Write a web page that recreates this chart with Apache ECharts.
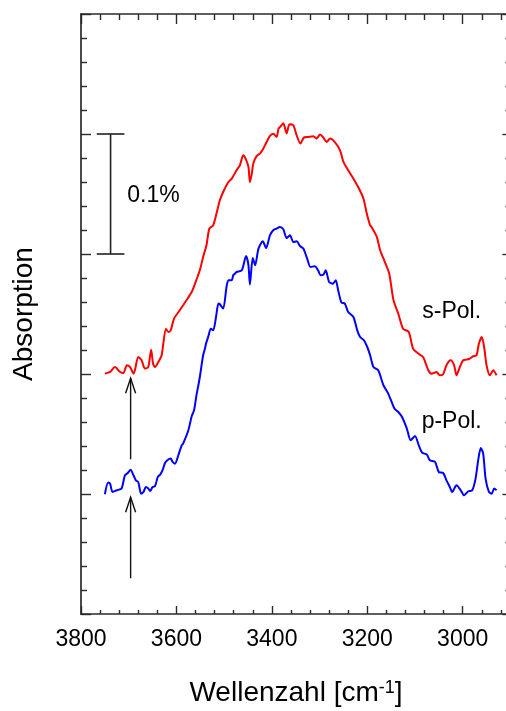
<!DOCTYPE html>
<html>
<head>
<meta charset="utf-8">
<script src="https://cdn.jsdelivr.net/npm/echarts@6/dist/echarts.min.js"></script>
<style>
html,body{margin:0;padding:0;background:#fff;overflow:hidden}
#c{width:506px;height:711px}
</style>
</head>
<body>
<div id="c"></div>
<script>
// ---------- data ----------
const xTickLabels = [3800, 3600, 3400, 3200, 3000];

// s-polarised spectrum (red)
const sPolX = [3750,3739,3729,3718,3711,3704,3697,3690,3687,3680,3673,3666,3659,3653,3649,3645,3638,3631,3622,3617,3612,3605,3593,3579,3568,3561,3551,3544,3537,3531,3523,3516,3509,3502,3491,3484,3474,3467,3460,3455,3449,3446,3442,3439,3432,3425,3418,3411,3404,3397,3390,3386,3383,3376,3369,3363,3355,3348,3340,3333,3324,3313,3306,3299,3292,3285,3278,3268,3257,3250,3240,3229,3219,3208,3201,3194,3191,3180,3173,3163,3154,3145,3135,3125,3113,3104,3093,3083,3072,3065,3055,3048,3041,3034,3025,3018,3013,3006,2999,2992,2985,2978,2971,2966,2960,2955,2950,2943,2936,2929];
const sPolY = [0.2003,0.2017,0.2058,0.2017,0.2008,0.2073,0.2058,0.2003,0.2031,0.2142,0.2114,0.2045,0.2058,0.2203,0.2087,0.2058,0.2100,0.2156,0.2378,0.2350,0.2364,0.2462,0.2531,0.2614,0.2683,0.2753,0.2864,0.2975,0.3073,0.3212,0.3239,0.3337,0.3448,0.3517,0.3600,0.3628,0.3698,0.3739,0.3823,0.3795,0.3725,0.3598,0.3670,0.3753,0.3816,0.3837,0.3878,0.3933,0.3985,0.4003,0.3975,0.4045,0.4058,0.4089,0.4006,0.4081,0.4073,0.3989,0.3920,0.3970,0.3975,0.3981,0.3962,0.3995,0.3970,0.3933,0.3962,0.3933,0.3864,0.3767,0.3698,0.3628,0.3558,0.3462,0.3337,0.3239,0.3225,0.3142,0.3031,0.2933,0.2837,0.2614,0.2503,0.2378,0.2350,0.2212,0.2170,0.2142,0.2031,0.2003,0.2017,0.1989,0.1998,0.2073,0.2114,0.2073,0.1989,0.2058,0.2114,0.2120,0.2128,0.2148,0.2156,0.2253,0.2308,0.2225,0.2073,0.1989,0.2031,0.1989];

// p-polarised spectrum (blue)
const pPolX = [3750,3743,3739,3734,3725,3715,3708,3702,3696,3690,3685,3680,3674,3669,3664,3659,3655,3650,3645,3639,3634,3629,3624,3619,3612,3608,3603,3596,3589,3586,3575,3568,3563,3558,3554,3551,3544,3540,3538,3533,3528,3523,3517,3512,3509,3502,3495,3491,3484,3481,3477,3474,3463,3454,3449,3446,3440,3435,3428,3419,3412,3404,3397,3390,3383,3376,3369,3362,3355,3348,3341,3334,3326,3319,3310,3303,3298,3292,3287,3280,3272,3266,3261,3254,3247,3240,3229,3221,3215,3207,3200,3194,3187,3177,3166,3156,3143,3135,3127,3117,3109,3100,3092,3085,3075,3069,3058,3050,3041,3034,3027,3022,3013,3004,2997,2988,2980,2973,2967,2962,2957,2952,2945,2939,2934,2929];
const pPolY = [0.0998,0.1095,0.1087,0.1017,0.1031,0.1045,0.1156,0.1175,0.1203,0.1156,0.1114,0.1100,0.1003,0.1017,0.1058,0.1045,0.1025,0.1058,0.1064,0.1142,0.1162,0.1198,0.1258,0.1281,0.1295,0.1267,0.1253,0.1323,0.1406,0.1420,0.1531,0.1648,0.1698,0.1823,0.1906,0.1973,0.2156,0.2214,0.2253,0.2314,0.2378,0.2364,0.2475,0.2587,0.2581,0.2545,0.2725,0.2781,0.2781,0.2823,0.2837,0.2850,0.2864,0.2983,0.2906,0.2745,0.2967,0.2906,0.3045,0.3106,0.3050,0.3156,0.3198,0.3212,0.3225,0.3206,0.3133,0.3156,0.3100,0.3106,0.3067,0.3045,0.2962,0.2892,0.2898,0.2864,0.2823,0.2828,0.2864,0.2767,0.2753,0.2781,0.2698,0.2595,0.2587,0.2517,0.2475,0.2364,0.2308,0.2281,0.2225,0.2156,0.2058,0.2031,0.1906,0.1837,0.1712,0.1683,0.1642,0.1545,0.1448,0.1483,0.1406,0.1345,0.1328,0.1281,0.1267,0.1183,0.1175,0.1114,0.1058,0.1017,0.1073,0.1031,0.0989,0.1023,0.1031,0.1128,0.1295,0.1383,0.1337,0.1128,0.1017,0.1003,0.1045,0.1031];

// annotations (data coordinates)
const scaleBarX = [3738];
const scaleBarFrom = [0.3];
const scaleBarTo = [0.4];
const arrowX = [3696, 3696];
const arrowFrom = [0.1289, 0.0298];
const arrowTo = [0.1964, 0.0973];
const noteTexts = ['0.1%', 's-Pol.', 'p-Pol.'];
const noteX = [3648, 3023, 3023];
const noteY = [0.3487, 0.2523, 0.1606];

// ---------- chart ----------
const FONT = '"Liberation Sans", Arial, Helvetica, sans-serif';
const AX = '#2a2a2a';
const chart = echarts.init(document.getElementById('c'), null, {renderer: 'canvas'});

function xAxisCfg(pos, majorLen, minorLen, showLabel) {
  return {
    type: 'value', position: pos, min: 2800, max: 3800, inverse: true, interval: 200,
    axisLine: {show: true, onZero: false, lineStyle: {color: AX, width: 1.7}},
    axisTick: {show: true, inside: true, length: majorLen, lineStyle: {color: AX, width: 1.4}},
    minorTick: {show: true, splitNumber: 5, length: minorLen, lineStyle: {color: AX, width: 1.4}},
    splitLine: {show: false}, minorSplitLine: {show: false},
    axisLabel: {
      show: showLabel, margin: 14, fontSize: 23, color: '#000', fontFamily: FONT,
      formatter: v => (xTickLabels.indexOf(v) >= 0 ? String(v) : '')
    }
  };
}
function yAxisCfg(pos, majorLen, minorLen, extra) {
  return Object.assign({
    type: 'value', position: pos, min: 0, max: 0.5, interval: 0.1,
    axisLine: {show: true, onZero: false, lineStyle: {color: AX, width: 1.7}},
    axisTick: {show: true, inside: true, length: majorLen, lineStyle: {color: AX, width: 1.4}},
    minorTick: {show: true, splitNumber: 5, length: minorLen, lineStyle: {color: AX, width: 1.4}},
    splitLine: {show: false}, minorSplitLine: {show: false},
    axisLabel: {show: false}
  }, extra || {});
}

const option = {
  animation: false,
  backgroundColor: '#fff',
  grid: {left: 81, top: 14, width: 477.1, height: 600, containLabel: false, outerBoundsMode: 'none'},
  xAxis: [xAxisCfg('bottom', 8, 4, true), xAxisCfg('top', 10, 6, false)],
  yAxis: [
    yAxisCfg('left', 10, 6, {
      name: 'Absorption', nameLocation: 'middle', nameGap: 43,
      nameTextStyle: {fontSize: 28, color: '#000', fontFamily: FONT}
    }),
    yAxisCfg('right', 8, 5, {offset: -47.7})
  ],
  graphic: [{
    type: 'text', x: 296, y: 693,
    style: {
      text: '{a|Wellenzahl [cm}{s|-1}{a|]}',
      align: 'center', verticalAlign: 'middle',
      rich: {
        a: {fontSize: 28, fontFamily: FONT, fill: '#000', color: '#000'},
        s: {fontSize: 18, fontFamily: FONT, fill: '#000', color: '#000', verticalAlign: 'top'}
      }
    }
  }],
  series: [
    {
      type: 'line', name: 's-Pol.', xAxisIndex: 0, yAxisIndex: 0,
      data: sPolX.map((x, i) => [x, sPolY[i]]),
      showSymbol: false, symbol: 'none', smooth: 0.25, silent: true,
      lineStyle: {color: '#ff0000', width: 2}
    },
    {
      type: 'line', name: 'p-Pol.', xAxisIndex: 0, yAxisIndex: 0,
      data: pPolX.map((x, i) => [x, pPolY[i]]),
      showSymbol: false, symbol: 'none', smooth: 0.25, silent: true,
      lineStyle: {color: '#0000ff', width: 2}
    },
    {
      type: 'custom', xAxisIndex: 0, yAxisIndex: 0, silent: true,
      data: scaleBarX.map((x, i) => [x, scaleBarFrom[i], scaleBarTo[i]]),
      renderItem: (params, api) => {
        const a = api.coord([api.value(0), api.value(1)]);
        const b = api.coord([api.value(0), api.value(2)]);
        const hw = 13.8;
        const st = {stroke: '#222', lineWidth: 1.6};
        return {type: 'group', children: [
          {type: 'line', shape: {x1: a[0], y1: a[1], x2: b[0], y2: b[1]}, style: st},
          {type: 'line', shape: {x1: a[0] - hw, y1: a[1], x2: a[0] + hw, y2: a[1]}, style: st},
          {type: 'line', shape: {x1: b[0] - hw, y1: b[1], x2: b[0] + hw, y2: b[1]}, style: st}
        ]};
      }
    },
    {
      type: 'custom', xAxisIndex: 0, yAxisIndex: 0, silent: true,
      data: arrowX.map((x, i) => [x, arrowFrom[i], arrowTo[i]]),
      renderItem: (params, api) => {
        const a = api.coord([api.value(0), api.value(1)]);
        const b = api.coord([api.value(0), api.value(2)]);
        const st = {stroke: '#111', lineWidth: 1.4, fill: null};
        return {type: 'group', children: [
          {type: 'line', shape: {x1: a[0], y1: a[1], x2: b[0], y2: b[1]}, style: st},
          {type: 'polyline', shape: {points: [[b[0] - 5, b[1] + 15], [b[0], b[1]], [b[0] + 5, b[1] + 15]]}, style: st}
        ]};
      }
    },
    {
      type: 'custom', xAxisIndex: 0, yAxisIndex: 0, silent: true,
      data: noteX.map((x, i) => [x, noteY[i], i]),
      renderItem: (params, api) => {
        const p = api.coord([api.value(0), api.value(1)]);
        return {type: 'text', style: {
          text: noteTexts[api.value(2)], x: p[0], y: p[1],
          align: 'center', verticalAlign: 'middle',
          fontSize: 23, fontFamily: FONT, fill: '#000'
        }};
      }
    }
  ]
};
chart.setOption(option);
</script>
</body>
</html>
